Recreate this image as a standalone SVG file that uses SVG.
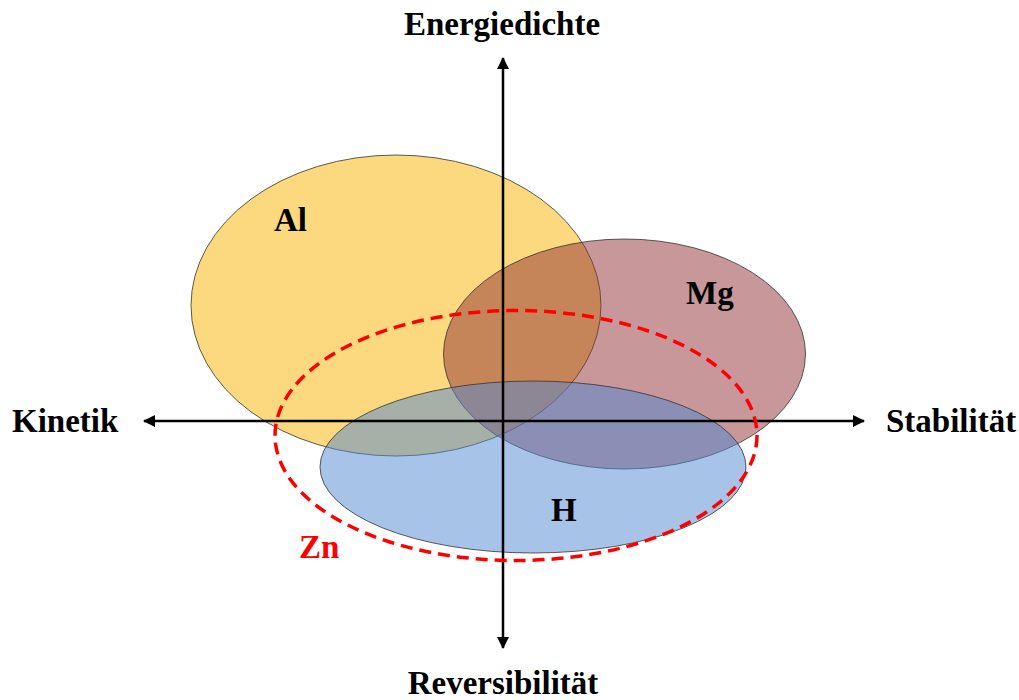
<svg xmlns="http://www.w3.org/2000/svg" width="1019" height="700" viewBox="0 0 1019 700">
  <style>
    .t { font-family: "Liberation Serif", "Times New Roman", serif; font-weight: bold; font-size: 33px; fill: #000; }
    .blob { stroke: #333; stroke-width: 1; stroke-opacity: 0.8; }
    .axis { stroke: #000; stroke-width: 2.5; fill: none; }
  </style>
  <defs>
    <marker id="arr" viewBox="0 0 12 12" refX="11" refY="6" markerWidth="12" markerHeight="12" markerUnits="userSpaceOnUse" orient="auto">
      <path d="M0,0 L12,6 L0,12 z" fill="#000"/>
    </marker>
  </defs>
  <rect width="1019" height="700" fill="#fff"/>
  <g id="node-al">
    <ellipse class="blob" cx="396" cy="305.5" rx="205" ry="150.5" fill="#FAB300" fill-opacity="0.5"/>
    <text class="t" x="274" y="231">Al</text>
  </g>
  <g id="node-mg">
    <ellipse class="blob" cx="624.5" cy="354" rx="181" ry="115" fill="#8F2F33" fill-opacity="0.5"/>
    <text class="t" x="686" y="304">Mg</text>
  </g>
  <g id="node-h">
    <ellipse class="blob" cx="533" cy="467" rx="213" ry="86" fill="#5187D1" fill-opacity="0.5"/>
    <text class="t" x="551" y="521">H</text>
  </g>
  <g id="connectors">
    <line class="axis" x1="503" y1="421" x2="503" y2="58" marker-end="url(#arr)"/>
    <line class="axis" x1="503" y1="421" x2="503" y2="648" marker-end="url(#arr)"/>
    <line class="axis" x1="503" y1="421" x2="144" y2="421" marker-end="url(#arr)"/>
    <line class="axis" x1="503" y1="421" x2="864" y2="421" marker-end="url(#arr)"/>
  </g>
  <g id="node-zn">
    <ellipse cx="516" cy="435.5" rx="241" ry="125" fill="none" stroke="#FF0000" stroke-width="3.5" stroke-dasharray="12 7"/>
    <text class="t" x="299" y="558" style="fill:#FF0000">Zn</text>
  </g>
  <g id="labels">
    <text class="t" x="502" y="35" text-anchor="middle">Energiedichte</text>
    <text class="t" x="503" y="694" text-anchor="middle">Reversibilität</text>
    <text class="t" x="12" y="432">Kinetik</text>
    <text class="t" x="886" y="432">Stabilität</text>
  </g>
</svg>
